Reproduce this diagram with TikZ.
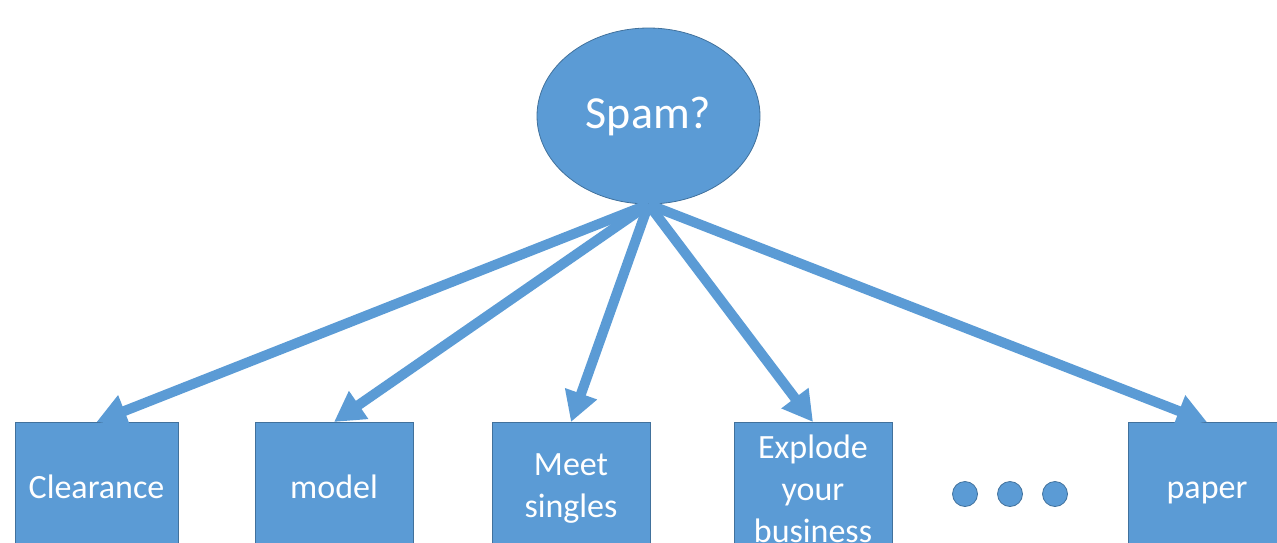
\documentclass[tikz,border=0pt]{standalone}
\usepackage{fontspec}
\setmainfont{Carlito}
\usetikzlibrary{arrows.meta,shapes.geometric}
\definecolor{office}{HTML}{5B9BD5}
\definecolor{officeedge}{HTML}{41719C}
% invisible rule that fixes the baseline of one-line labels
\newcommand{\wordstrut}{\rule[-10pt]{0pt}{40pt}}
\tikzset{
  blob/.style={fill=office, draw=officeedge, line width=0.8pt},
  root/.style={blob, ellipse, inner sep=0pt, minimum width=223pt, minimum height=176pt,
    text=white, font=\fontsize{46}{52}\selectfont},
  wordbox/.style={blob, rectangle, inner sep=0pt, minimum width=158pt, minimum height=132pt,
    anchor=north, text=white, align=center, font=\fontsize{34}{42}\selectfont},
  dotmark/.style={blob, circle, inner sep=0pt, minimum size=25pt},
  feed/.style={draw=office, line width=10pt,
    -{Triangle[width=32pt, length=30pt]}, shorten <=0pt},
}
\begin{document}
\begin{tikzpicture}[x=1pt, y=-1pt]
  \useasboundingbox (0,0) rectangle (1277,542);
  \clip (0,0) rectangle (1277,542);

  % root question
  \node[root] (spam) at (648.5,116) {Spam?};

  % word features
  \node[wordbox, minimum width=163pt] (clear) at (96.5,422) {\wordstrut Clearance};
  \node[wordbox] (model) at (334,422) {\wordstrut model};
  \node[wordbox] (meet) at (571,422) {Meet\\singles};
  \node[wordbox] (expl) at (813,422) {Explode\\your\\business};
  \node[wordbox] (paper) at (1207,422) {\wordstrut paper};

  % ellipsis dots
  \node[dotmark] (d1) at (965,494) {};
  \node[dotmark] (d2) at (1010,494) {};
  \node[dotmark] (d3) at (1055,494) {};

  % edges from the root to each word
  \coordinate (hub) at (spam.south);
  \foreach \t in {clear, model, meet, expl, paper}
    \draw[feed] (hub) -- (\t.north);
\end{tikzpicture}
\end{document}
